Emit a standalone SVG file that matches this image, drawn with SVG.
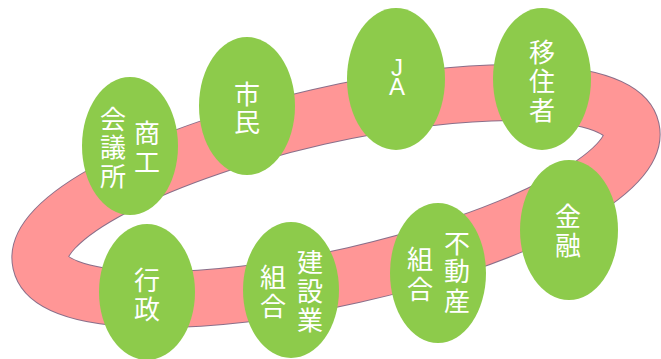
<svg xmlns="http://www.w3.org/2000/svg" width="661" height="359" viewBox="0 0 661 359">
<style>
.node ellipse{fill:#8DCB4B;}
.node text{fill:#ffffff;font-family:"Noto Sans CJK JP","Noto Sans",sans-serif;font-size:26px;text-anchor:middle;dominant-baseline:central;}
.node text.lat{font-family:"Liberation Sans",Arial,sans-serif;font-size:24px;}
</style>
<rect width="661" height="359" fill="#ffffff"/>
<g id="connectors">
<g transform="translate(336 196) rotate(-12.75)">
<ellipse cx="0" cy="0" rx="303" ry="81" fill="none" stroke="#8a6f8a" stroke-width="57"/>
<ellipse cx="0" cy="0" rx="303" ry="81" fill="none" stroke="#FF9696" stroke-width="55"/>
</g>
</g>
<g id="n-shoko" class="node"><ellipse cx="130" cy="146" rx="48" ry="69"/>
<text><tspan x="147" y="131">商</tspan><tspan x="147" y="160">工</tspan><tspan x="113" y="117">会</tspan><tspan x="113" y="145">議</tspan><tspan x="113" y="174">所</tspan></text></g>
<g id="n-shimin" class="node"><ellipse cx="247" cy="106" rx="48" ry="69"/>
<text><tspan x="247" y="92">市</tspan><tspan x="247" y="120">民</tspan></text></g>
<g id="n-ja" class="node"><ellipse cx="396" cy="79" rx="49" ry="71"/>
<text class="lat"><tspan x="397" y="67">J</tspan><tspan x="397" y="86">A</tspan></text></g>
<g id="n-ijusha" class="node"><ellipse cx="542" cy="79" rx="49" ry="71"/>
<text><tspan x="542" y="50">移</tspan><tspan x="542" y="79">住</tspan><tspan x="542" y="108">者</tspan></text></g>
<g id="n-kinyu" class="node"><ellipse cx="569" cy="230" rx="49" ry="70"/>
<text><tspan x="568" y="214">金</tspan><tspan x="568" y="243">融</tspan></text></g>
<g id="n-fudosan" class="node"><ellipse cx="438" cy="273" rx="48" ry="70"/>
<text><tspan x="457" y="241">不</tspan><tspan x="457" y="269">動</tspan><tspan x="457" y="299">産</tspan><tspan x="420" y="257">組</tspan><tspan x="420" y="287">合</tspan></text></g>
<g id="n-kensetsu" class="node"><ellipse cx="291" cy="290" rx="48" ry="68"/>
<text><tspan x="310" y="260">建</tspan><tspan x="310" y="289">設</tspan><tspan x="310" y="318">業</tspan><tspan x="273" y="275">組</tspan><tspan x="273" y="304">合</tspan></text></g>
<g id="n-gyosei" class="node"><ellipse cx="147" cy="292" rx="48" ry="68"/>
<text><tspan x="147" y="278">行</tspan><tspan x="147" y="307">政</tspan></text></g>
</svg>
